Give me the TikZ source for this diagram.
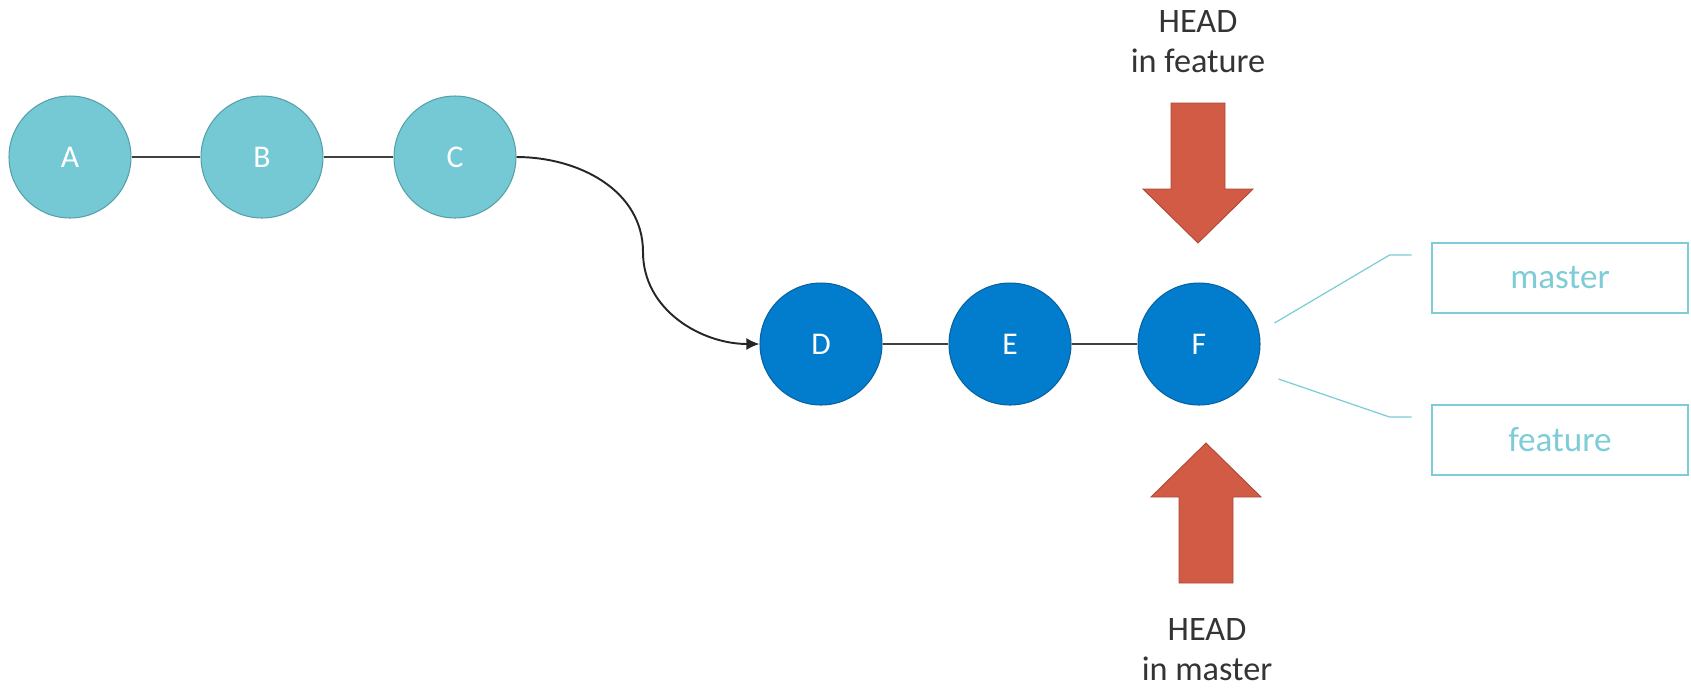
\documentclass[tikz,border=0pt]{standalone}
\usepackage{fontspec}
\setmainfont{Carlito}
\usepackage{tikz}
\usetikzlibrary{positioning, arrows.meta}
\tikzstyle{gitGraph} = [x = .02cm, y = -.02cm]
\definecolor{commitLight}{RGB}{117,201,212}
\definecolor{commitLightLine}{RGB}{86,160,170}
\definecolor{commitDark}{RGB}{2,124,204}
\definecolor{commitDarkLine}{RGB}{10,98,160}
\definecolor{headRed}{RGB}{209,91,69}
\definecolor{headRedLine}{RGB}{172,72,56}
\definecolor{branchTeal}{RGB}{125,204,214}
\definecolor{labelGray}{RGB}{52,52,52}
\tikzstyle{commitStyle} = [circle, minimum size = 2.44cm, inner sep = 0, line width = .6pt, text = white, font = \fontsize{18}{22}\selectfont]
\tikzstyle{oldCommit} = [commitStyle, fill = commitLight, draw = commitLightLine]
\tikzstyle{newCommit} = [commitStyle, fill = commitDark, draw = commitDarkLine]
\tikzstyle{commitLink} = [color = black!75, line width = .8pt]
\tikzstyle{rebaseCurve} = [color = black!85, line width = 1.1pt, -{Latex[length = 2.6mm, width = 2.4mm]}]
\tikzstyle{branchBox} = [draw = branchTeal, line width = .9pt, minimum width = 5.12cm, minimum height = 1.4cm, text = branchTeal, font = \fontsize{20}{24}\selectfont]
\tikzstyle{branchLink} = [color = branchTeal, line width = .7pt]
\tikzstyle{headText} = [align = center, text = labelGray, font = \fontsize{19.5}{22.8}\selectfont]
\tikzstyle{headArrowStyle} = [fill = headRed, draw = headRedLine, line width = .5pt, line join = miter]
\newcommand{\headArrow}[3]{\filldraw [headArrowStyle] ({#1 - 27}, {#2 - (#3) * 140}) -- ({#1 - 27}, {#2 - (#3) * 54}) -- ({#1 - 55}, {#2 - (#3) * 54}) -- (#1, #2) -- ({#1 + 55}, {#2 - (#3) * 54}) -- ({#1 + 27}, {#2 - (#3) * 54}) -- ({#1 + 27}, {#2 - (#3) * 140}) -- cycle;}
\begin{document}
\begin{tikzpicture}[gitGraph]
  \useasboundingbox (0,0) rectangle (1691,691);

  \node [oldCommit] (A) at (70,157) {A};
  \node [oldCommit] (B) at (262,157) {B};
  \node [oldCommit] (C) at (455,157) {C};
  \node [newCommit] (D) at (821,344) {D};
  \node [newCommit] (E) at (1010,344) {E};
  \node [newCommit] (F) at (1199,344) {F};

  \draw [commitLink] (A) -- (B);
  \draw [commitLink] (B) -- (C);
  \draw [commitLink] (D) -- (E);
  \draw [commitLink] (E) -- (F);

  \coordinate (curveBend) at (643,252);
  \draw [rebaseCurve] (C.east) to [out = 0, in = 90] (curveBend) to [out = -90, in = 180] (D.west);

  \node [branchBox] (master) at (1560,278) {master};
  \node [branchBox] (feature) at (1560,440) {feature};
  \draw [branchLink] ([shift = {(14,-21)}] F.east) -- ++(115,-68) -- ++(22,0) coordinate (masterEnd);
  \draw [branchLink] ([shift = {(18,35)}] F.east) -- ++(111,38) -- ++(22,0) coordinate (featureEnd);

  \headArrow{1198}{243}{1}
  \headArrow{1206}{443}{-1}
  \node [headText] (headFeature) at (1198,42) {HEAD\\in feature};
  \node [headText] (headMaster) at (1207,650) {HEAD\\in master};
\end{tikzpicture}
\end{document}
